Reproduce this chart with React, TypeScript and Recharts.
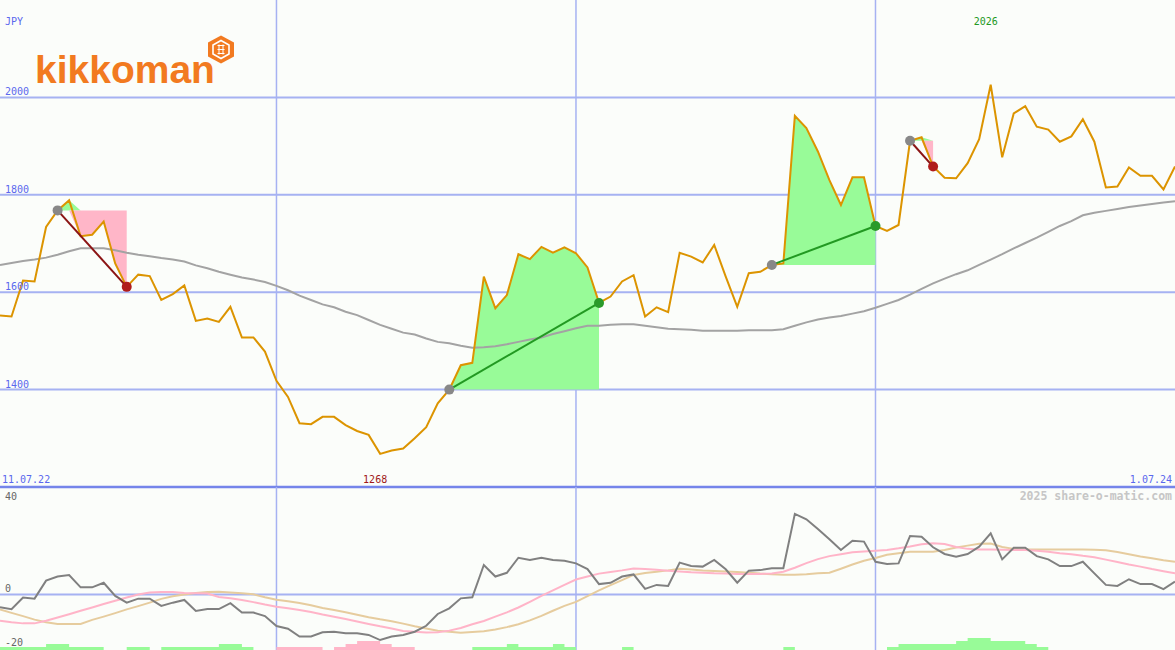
import React from "react";
import { Area, CartesianGrid, ComposedChart, Line, ReferenceDot, ReferenceLine, XAxis, YAxis } from "recharts";

// weekly closes, first week = 1, 2.01.23 = week 25
const price = [
  1552, 1550, 1624, 1622, 1734, 1768, 1789, 1715, 1718, 1745,
  1659, 1611, 1636, 1633, 1584, 1596, 1614, 1541, 1546, 1539,
  1570, 1507, 1507, 1478, 1418, 1385, 1331, 1329, 1344, 1344,
  1327, 1315, 1307, 1268, 1275, 1279, 1300, 1323, 1372, 1400,
  1450, 1455, 1632, 1567, 1594, 1678, 1668, 1693, 1681, 1692,
  1680, 1651, 1578, 1591, 1622, 1635, 1550, 1569, 1559, 1681,
  1673, 1661, 1697, 1632, 1570, 1639, 1642, 1656, 1659, 1962,
  1937, 1889, 1830, 1779, 1836, 1836, 1736, 1726, 1738, 1911,
  1918, 1858, 1835, 1834, 1865, 1914, 2026, 1877, 1967, 1982,
  1940, 1934, 1909, 1920, 1955, 1909, 1815, 1817, 1856, 1839,
  1839, 1811, 1858,
];

const avg = [
  1656, 1660, 1664, 1667, 1671, 1677, 1684, 1690, 1690, 1690,
  1686, 1681, 1677, 1674, 1670, 1667, 1663, 1655, 1649, 1642,
  1636, 1630, 1626, 1621, 1613, 1604, 1593, 1584, 1575, 1569,
  1560, 1553, 1543, 1533, 1525, 1517, 1513, 1505, 1498, 1495,
  1490, 1486, 1487, 1489, 1493, 1498, 1503, 1507, 1514, 1520,
  1526, 1531, 1531, 1533, 1534, 1534, 1531, 1528, 1525, 1524,
  1523, 1521, 1521, 1521, 1521, 1522, 1522, 1522, 1524, 1531,
  1538, 1544, 1548, 1551, 1556, 1561, 1568, 1576, 1584, 1595,
  1607, 1618, 1628, 1637, 1645, 1656, 1667, 1678, 1690, 1701,
  1712, 1724, 1736, 1746, 1758, 1763, 1767, 1771, 1775, 1778,
  1781, 1784, 1787,
];

const momentum = [
  -4.7, -5.4, -1.1, -1.5, 5.2, 6.7, 7.3, 2.7, 2.7, 4.4,
  -0.5, -3.0, -1.5, -1.5, -4.2, -3.0, -2.0, -6.1, -5.4, -5.4,
  -3.2, -6.7, -6.7, -8.0, -11.7, -12.7, -15.6, -15.6, -14.0, -13.8,
  -14.4, -14.4, -15.0, -16.9, -15.6, -15.0, -13.8, -11.6, -7.2, -5.1,
  -1.4, -1.0, 11.0, 6.7, 8.1, 13.7, 12.9, 13.7, 12.9, 12.6,
  11.6, 9.5, 3.9, 4.4, 6.7, 7.5, 2.1, 3.6, 3.2, 11.9,
  10.6, 10.4, 12.9, 9.4, 4.4, 8.9, 9.1, 9.8, 9.8, 30.0,
  28.0, 24.4, 20.6, 16.6, 20.0, 19.7, 12.2, 11.4, 11.6, 21.8,
  21.5, 17.6, 15.1, 14.1, 15.1, 17.8, 22.8, 13.1, 17.4, 17.4,
  14.3, 13.1, 10.6, 10.6, 12.2, 7.9, 3.6, 3.2, 5.7, 3.9,
  3.9, 2.0, 4.8,
];

const fastSignal = [
  -9.7, -10.3, -10.7, -10.7, -9.7, -8.5, -7.3, -6.0, -4.8, -3.5,
  -2.3, -1.1, 0.0, 0.8, 1.0, 1.0, 0.6, 0.5, 0.4, -0.9,
  -1.4, -2.0, -2.8, -3.7, -4.5, -5.1, -5.7, -6.5, -7.4, -8.2,
  -9.1, -10.0, -10.9, -11.8, -12.6, -13.5, -13.8, -14.1, -14.0, -13.4,
  -12.4, -11.0, -9.8, -8.2, -6.6, -4.8, -2.7, -0.5, 1.6, 3.6,
  5.6, 6.7, 7.8, 8.4, 9.0, 9.7, 9.5, 9.2, 8.9, 8.6,
  8.3, 8.1, 7.9, 7.8, 7.7, 7.7, 7.7, 7.8, 8.5, 10.0,
  11.7, 13.2, 14.3, 15.0, 15.7, 16.0, 16.3, 16.6, 17.2, 17.9,
  18.7, 19.1, 18.8, 17.7, 17.0, 16.8, 16.8, 16.7, 16.6, 16.6,
  16.3, 15.9, 15.4, 15.0, 14.4, 13.9, 13.0, 12.1, 11.2, 10.4,
  9.5, 8.7, 7.9,
];

const slowSignal = [
  -5.5, -6.8, -8.0, -9.3, -10.3, -10.9, -10.9, -10.9, -9.4, -8.2,
  -6.9, -5.5, -4.3, -3.0, -1.6, -0.6, 0.0, 0.6, 1.0, 1.1,
  0.8, 0.5, 0.1, -1.0, -1.9, -2.5, -3.1, -4.0, -5.0, -5.7,
  -6.6, -7.5, -8.4, -9.2, -9.9, -10.8, -11.8, -12.6, -13.4, -13.8,
  -14.2, -13.9, -13.6, -13.0, -12.1, -11.0, -9.6, -7.9, -6.0, -4.2,
  -2.7, -0.6, 1.6, 3.5, 5.4, 7.3, 8.0, 8.5, 9.0, 9.6,
  9.3, 9.0, 8.8, 8.6, 8.4, 8.1, 7.8, 7.6, 7.4, 7.4,
  7.6, 7.9, 8.1, 9.6, 11.2, 12.6, 13.6, 14.8, 15.4, 15.9,
  15.9, 15.9, 16.6, 17.5, 18.2, 18.9, 19.0, 17.7, 17.0, 16.8,
  16.8, 16.8, 16.8, 16.8, 16.8, 16.7, 16.5, 15.8, 15.0, 14.2,
  13.5, 12.8, 12.2,
];

const histUp = [
  1, 1, 1, 1, 2, 2, 1, 1, 1, 0,
  0, 1, 1, 0, 1, 1, 1, 1, 1, 2,
  2, 1, 0, 0, 0, 0, 0, 0, 0, 0,
  0, 0, 0, 0, 0, 0, 0, 0, 0, 0,
  0, 1, 1, 1, 2, 1, 1, 1, 2, 1,
  0, 0, 0, 0, 1, 0, 0, 0, 0, 0,
  0, 0, 0, 0, 0, 0, 0, 0, 1, 0,
  0, 0, 0, 0, 0, 0, 0, 1, 2, 2,
  2, 2, 2, 3, 4, 4, 3, 3, 3, 2,
  1, 0, 0, 0, 0, 0, 0, 0, 0, 0,
  0, 0, 0,
];

const histDown = [
  0, 0, 0, 0, 0, 0, 0, 0, 0, 0,
  0, 0, 0, 0, 0, 0, 0, 0, 0, 0,
  0, 0, 0, 0, 1, 1, 1, 1, 0, 1,
  2, 3, 3, 2, 1, 1, 0, 0, 0, 0,
  0, 0, 0, 0, 0, 0, 0, 0, 0, 0,
  0, 0, 0, 0, 0, 0, 0, 0, 0, 0,
  0, 0, 0, 0, 0, 0, 0, 0, 0, 0,
  0, 0, 0, 0, 0, 0, 0, 0, 0, 0,
  0, 0, 0, 0, 0, 0, 0, 0, 0, 0,
  0, 0, 0, 0, 0, 0, 0, 0, 0, 0,
  0, 0, 0,
];

const priceTicks = [1400, 1600, 1800, 2000];
const dateTicks = [25, 51, 77];
const dateLabels = ["2.01.23", "3.07.23", "1.01.24"];
const oscTicks = [40, 0, -20];
const tradeIn = [6, 40, 68, 80];
const tradeOut = [12, 53, 77, 82];

const FONT = '"DejaVu Sans Mono", monospace';
const BG = "#fbfdfa";
const BLUE_TEXT = "#5a68ee";
const GRID = "#a6b2f2";

const rows = price.map((p, k) => {
  const i = k + 1;
  const row: { [key: string]: any } = {
    i,
    price: p,
    avg: avg[k],
    mom: momentum[k],
    fast: fastSignal[k],
    slow: slowSignal[k],
    up: histUp[k],
    down: histDown[k],
  };
  tradeIn.forEach((a, t) => {
    const b = tradeOut[t];
    if (i >= a && i <= b) {
      const base = price[a - 1];
      row.gain = [base, Math.max(p, base)];
      row.loss = [Math.min(p, base), base];
    }
    if (i === a || i === b) row[`trade${t}`] = p;
  });
  return row;
});

const minIdx = price.indexOf(Math.min(...price));
const maxIdx = price.indexOf(Math.max(...price));

function DateTick(props: any) {
  const { x, payload } = props;
  const label = dateLabels[dateTicks.indexOf(payload.value)];
  return (
    <g>
      <rect x={x - 24} y={0} width={48} height={16} fill={BG} />
      <text x={x} y={13} textAnchor="middle" fill={BLUE_TEXT} fontSize={10} fontFamily={FONT}>
        {label}
      </text>
    </g>
  );
}

function PriceTick(props: any) {
  const { y, payload } = props;
  return (
    <text x={5} y={y - 2} fill={BLUE_TEXT} fontSize={10} fontFamily={FONT}>
      {payload.value}
    </text>
  );
}

function OscTick(props: any) {
  const { y, payload } = props;
  return (
    <text x={5} y={payload.value === 40 ? y + 13 : y - 2.5} fill="#666" fontSize={10} fontFamily={FONT}>
      {payload.value}
    </text>
  );
}

function tradeDot(t: number) {
  const a = tradeIn[t];
  const won = price[tradeOut[t] - 1] > price[a - 1];
  return (props: any) => {
    const { cx, cy, payload, index } = props;
    if (payload[`trade${t}`] == null || cx == null || cy == null) return <g key={`d${t}-${index}`} />;
    const fill = payload.i === a ? "#888888" : won ? "#2a9a2a" : "#b01c1c";
    return <circle key={`d${t}-${index}`} cx={cx} cy={cy} r={5} fill={fill} />;
  };
}

export default function App() {
  return (
    <div style={{ position: "absolute", left: 0, top: 0, width: 1175, height: 650, background: BG, overflow: "hidden" }}>
      <div style={{ position: "absolute", left: 0, top: 0 }}>
        <ComposedChart width={1175} height={489} data={rows} margin={{ top: 0, right: 0, bottom: 2, left: 0 }}>
          <CartesianGrid vertical={false} horizontalValues={priceTicks} stroke={GRID} strokeWidth={2} />
          <CartesianGrid horizontal={false} verticalValues={dateTicks} stroke={GRID} strokeWidth={1.5} />
          <XAxis
            dataKey="i"
            type="number"
            domain={[1, 103]}
            orientation="top"
            ticks={dateTicks}
            height={0}
            axisLine={false}
            tickLine={false}
            interval={0}
            tick={<DateTick />}
          />
          <YAxis
            type="number"
            domain={[1200, 2200]}
            ticks={priceTicks}
            width={40}
            mirror
            axisLine={false}
            tickLine={false}
            interval={0}
            tick={<PriceTick />}
          />
          <Area dataKey="gain" fill="#98fb98" fillOpacity={1} stroke="none" activeDot={false} isAnimationActive={false} />
          <Area dataKey="loss" fill="#ffb6c8" fillOpacity={1} stroke="none" activeDot={false} isAnimationActive={false} />
          <Line dataKey="avg" stroke="#a3a3a3" strokeWidth={2} dot={false} activeDot={false} isAnimationActive={false} />
          <Line dataKey="price" stroke="#dc9400" strokeWidth={2} dot={false} activeDot={false} isAnimationActive={false} />
          {tradeIn.map((a, t) => (
            <Line
              key={`trade${t}`}
              dataKey={`trade${t}`}
              connectNulls
              stroke={price[tradeOut[t] - 1] > price[a - 1] ? "#229922" : "#8b1414"}
              strokeWidth={2}
              dot={tradeDot(t)}
              activeDot={false}
              isAnimationActive={false}
            />
          ))}
          <ReferenceLine y={1200} stroke="#7585ea" strokeWidth={2.5} />
          <ReferenceDot
            x={minIdx + 1}
            y={1200}
            r={0}
            shape={(p: any) => (
              <text x={p.cx - 5} y={p.cy - 4} textAnchor="middle" fill="#a01818" fontSize={10} fontFamily={FONT}>
                {price[minIdx]}
              </text>
            )}
          />
          <ReferenceDot
            x={maxIdx + 1}
            y={2200}
            r={0}
            shape={(p: any) => (
              <text x={p.cx - 5} y={p.cy + 25} textAnchor="middle" fill="#229922" fontSize={10} fontFamily={FONT}>
                {price[maxIdx]}
              </text>
            )}
          />
        </ComposedChart>
      </div>

      <div style={{ position: "absolute", left: 0, top: 487 }}>
        <ComposedChart width={1175} height={163} data={rows} margin={{ top: 0, right: 0, bottom: 0, left: 0 }}>
          <CartesianGrid vertical={false} horizontalValues={[0]} stroke={GRID} strokeWidth={2} />
          <CartesianGrid horizontal={false} verticalValues={dateTicks} stroke={GRID} strokeWidth={1.5} />
          <XAxis dataKey="i" type="number" domain={[1, 103]} ticks={dateTicks} hide />
          <YAxis
            type="number"
            domain={[-20.6, 40]}
            ticks={oscTicks}
            width={40}
            mirror
            axisLine={false}
            tickLine={false}
            interval={0}
            tick={<OscTick />}
          />
          <YAxis yAxisId="h" type="number" domain={[0, 163 / 3]} hide />
          <Area yAxisId="h" type="stepAfter" dataKey="up" fill="#98fb98" fillOpacity={1} stroke="none" activeDot={false} isAnimationActive={false} />
          <Area yAxisId="h" type="stepAfter" dataKey="down" fill="#ffb6c8" fillOpacity={1} stroke="none" activeDot={false} isAnimationActive={false} />
          <Line dataKey="slow" stroke="#e6cc9e" strokeWidth={2} dot={false} activeDot={false} isAnimationActive={false} />
          <Line dataKey="fast" stroke="#ffb4c8" strokeWidth={2} dot={false} activeDot={false} isAnimationActive={false} />
          <Line dataKey="mom" stroke="#808080" strokeWidth={2} dot={false} activeDot={false} isAnimationActive={false} />
        </ComposedChart>
      </div>

      <svg width={1175} height={650} style={{ position: "absolute", left: 0, top: 0, pointerEvents: "none" }}>
        <text x={5} y={25} fill={BLUE_TEXT} fontSize={10} fontFamily={FONT}>
          JPY
        </text>
        <text x={2} y={483} fill={BLUE_TEXT} fontSize={10} fontFamily={FONT}>
          11.07.22
        </text>
        <text x={1172} y={483} textAnchor="end" fill={BLUE_TEXT} fontSize={10} fontFamily={FONT}>
          1.07.24
        </text>
        <text x={1172} y={500} textAnchor="end" fill="#c6c6c6" fontSize={11.5} fontWeight="bold" fontFamily={FONT}>
          2025 share-o-matic.com
        </text>
        <text x={35} y={83} fill="#f27a20" fontSize={39} fontWeight="bold" fontFamily='"Liberation Sans", Arial, sans-serif'>
          kikkoman
        </text>
        <g transform="translate(221,49.5)">
          <polygon points="0,-14 13,-7 13,7 0,14 -13,7 -13,-7" fill="#f27a20" />
          <polygon points="0,-9 8,-4.5 8,4.5 0,9 -8,4.5 -8,-4.5" fill="none" stroke="#fff" strokeWidth={1.6} />
          <path d="M-3.5,-4 L3.5,-4 M-3.5,0 L3.5,0 M-3.5,4 L3.5,4 M-2,-5 L-2,5 M2,-5 L2,5" stroke="#fff" strokeWidth={1} />
        </g>
      </svg>
    </div>
  );
}
